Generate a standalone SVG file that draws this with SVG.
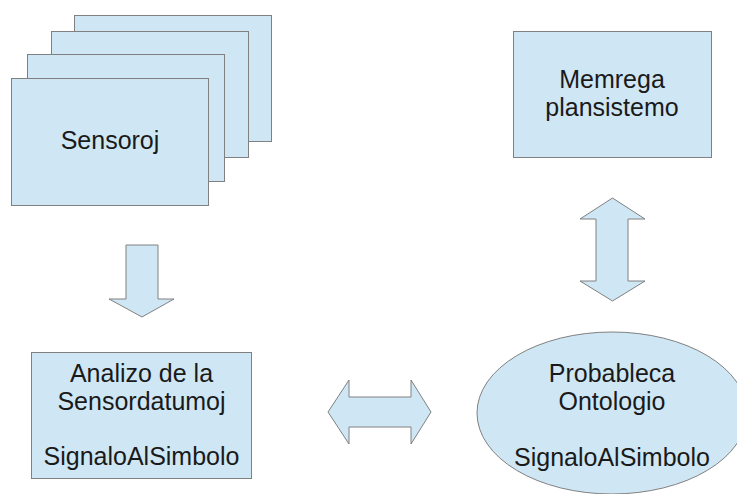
<svg xmlns="http://www.w3.org/2000/svg" width="737" height="494" viewBox="0 0 737 494">
<style>
.s{fill:#cfe7f5;stroke:#808080;stroke-width:1}
.t{font-family:"Liberation Sans",Arial,sans-serif;font-size:25px;fill:#1a1a1a;text-anchor:middle}
</style>
<rect x="0" y="0" width="737" height="494" fill="#ffffff"/>
<g id="sensoroj">
<rect class="s" x="74.5" y="15.5" width="197" height="126"/>
<rect class="s" x="51.5" y="31.5" width="197" height="126"/>
<rect class="s" x="27.5" y="54.5" width="197" height="127"/>
<rect class="s" x="11.5" y="78.5" width="197" height="127"/>
<text class="t" x="110" y="149">Sensoroj</text>
</g>
<g id="memrega">
<rect class="s" x="513.5" y="31.5" width="198" height="126"/>
<text class="t" x="612" y="88">Memrega</text>
<text class="t" x="612" y="116">plansistemo</text>
</g>
<g id="analizo">
<rect class="s" x="31.5" y="352.5" width="220" height="126"/>
<text class="t" x="141.5" y="382">Analizo de la</text>
<text class="t" x="141.5" y="410">Sensordatumoj</text>
<text class="t" x="141.5" y="465">SignaloAlSimbolo</text>
</g>
<g id="ontologio">
<ellipse class="s" cx="612" cy="413" rx="135" ry="81"/>
<text class="t" x="612" y="382">Probableca</text>
<text class="t" x="612" y="410">Ontologio</text>
<text class="t" x="612" y="466">SignaloAlSimbolo</text>
</g>
<g id="connectors">
<polygon class="s" points="126,245 158,245 158,299 174,299 142,317 109,299 126,299"/>
<polygon class="s" points="612.5,198 645,219 628,219 628,281 645,281 612.5,301 580,281 596,281 596,219 580,219"/>
<polygon class="s" points="328,412 349,380 349,397 411,397 411,380 431,412 411,444 411,427 349,427 349,444"/>
</g>
</svg>
